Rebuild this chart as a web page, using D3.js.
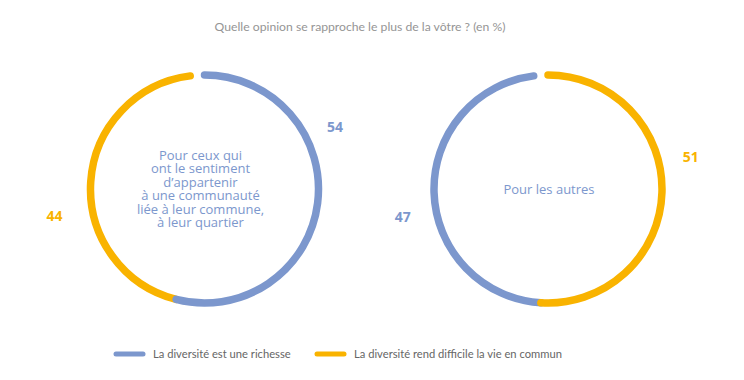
<!DOCTYPE html>
<html><head><meta charset="utf-8">
<script src="https://cdn.jsdelivr.net/npm/d3@7"></script>
<style>
html,body{margin:0;padding:0;background:#fff;}
svg{display:block;}
</style></head>
<body>
<svg id="chart" width="744" height="380"></svg>
<script>
// ---- data ----
const title = "Quelle opinion se rapproche le plus de la vôtre ? (en %)";
const seriesNames = ["La diversité est une richesse", "La diversité rend difficile la vie en commun"];
const groups = ["Pour ceux qui\nont le sentiment\nd’appartenir\nà une communauté\nliée à leur commune,\nà leur quartier", "Pour les autres"];
const richesse = [54, 47];
const difficile = [44, 51];

// ---- style / layout ----
const colors = ["#7c97cd", "#f9b300"];
const W = 744, H = 380;
const centersX = [204.5, 548], centerY = 189, R = 114, SW = 7.5;
const labelAngles = [[64.6, 259.6], [259.2, 77.3]]; // degrees, per series
const labelDist = [[144.5, 152.5], [148, 146.4]];

const svg = d3.select("#chart");

svg.append("text").attr("x", 360).attr("y", 31).attr("text-anchor", "middle")
  .attr("font-family", "Lato, sans-serif").attr("font-size", 12.2).attr("fill", "#959595")
  .text(title);

const color = d3.scaleOrdinal().domain(seriesNames).range(colors);

groups.forEach((g, i) => {
  const vals = [richesse[i], difficile[i]];
  const data = seriesNames.map((s, k) => ({series: s, value: vals[k], k}));
  const total = d3.sum(vals);
  const pie = d3.pie().value(d => d.value).sort((a, b) => b.value - a.value)
    .startAngle(0).endAngle(2 * Math.PI * total / 100);
  const arcs = pie(data);
  const gr = svg.append("g").attr("transform", `translate(${centersX[i]},${centerY})`);
  // draw later arcs first so the first arc's cap sits on top
  arcs.slice().sort((a, b) => b.startAngle - a.startAngle).forEach(a => {
    const p = d3.path();
    p.arc(0, 0, R, a.startAngle - Math.PI / 2, a.endAngle - Math.PI / 2);
    gr.append("path").attr("d", p.toString()).attr("fill", "none")
      .attr("stroke", color(a.data.series)).attr("stroke-width", SW)
      .attr("stroke-linecap", "round");
  });
  // value labels
  data.forEach((d, k) => {
    const ang = labelAngles[i][k] * Math.PI / 180;
    const dist = labelDist[i][k];
    gr.append("text").attr("x", dist * Math.sin(ang)).attr("y", -dist * Math.cos(ang))
      .attr("dy", "0.35em").attr("text-anchor", "middle")
      .attr("font-family", "'Open Sans', sans-serif").attr("font-weight", 700)
      .attr("font-size", 14).attr("fill", color(d.series)).text(d.value);
  });
  // centre text
  const lines = g.split("\n");
  const lh = 13.4;
  const t = gr.append("text").attr("text-anchor", "middle")
    .attr("font-family", "'Open Sans', sans-serif").attr("font-size", 13)
    .attr("fill", colors[0]);
  lines.forEach((ln, j) => {
    t.append("tspan").attr("x", i === 0 ? -4 : 1)
      .attr("y", (j - (lines.length - 1) / 2) * lh).attr("dy", "0.35em").text(ln);
  });
});

// legend
const legX = [116, 317];
seriesNames.forEach((s, k) => {
  const lg = svg.append("g").attr("transform", `translate(${legX[k]},354)`);
  lg.append("line").attr("x1", 0).attr("x2", 27).attr("stroke", color(s))
    .attr("stroke-width", 5).attr("stroke-linecap", "round");
  lg.append("text").attr("x", 37).attr("dy", "0.35em")
    .attr("font-family", "Lato, sans-serif").attr("font-size", 11.2).attr("fill", "#666")
    .text(s);
});
</script>
</body></html>
